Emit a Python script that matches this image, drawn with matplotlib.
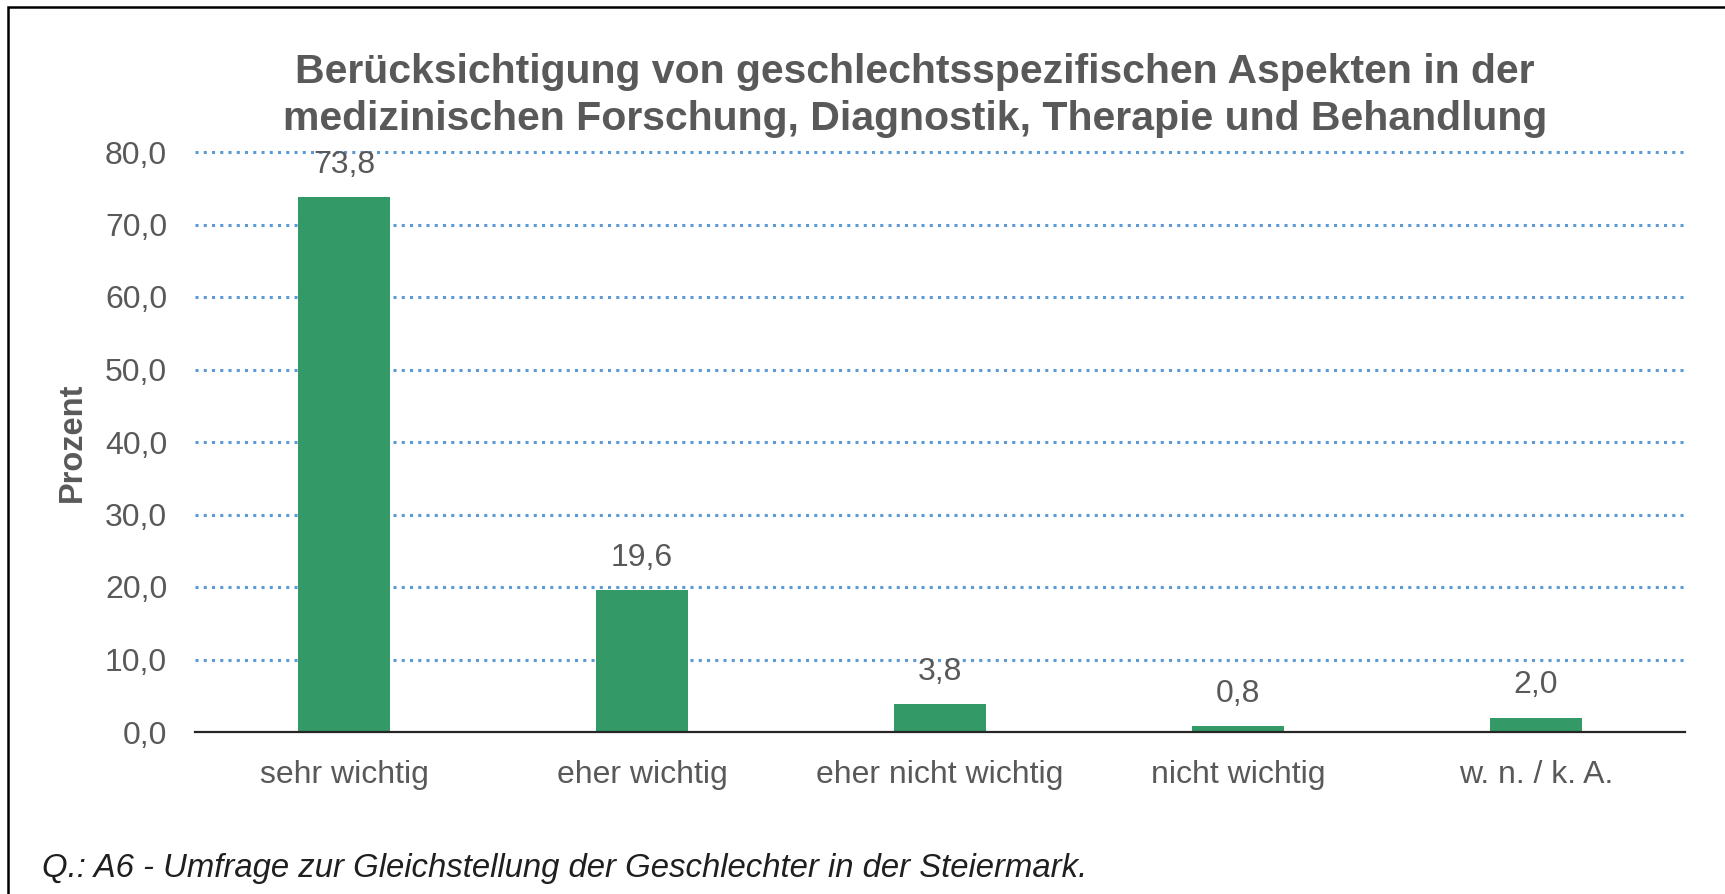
import matplotlib
matplotlib.use("Agg")
import matplotlib.pyplot as plt
from matplotlib.patches import Rectangle

# Survey answers and shares (percent)
categories = ["sehr wichtig", "eher wichtig", "eher nicht wichtig", "nicht wichtig", "w. n. / k. A."]
values = [73.8, 19.6, 3.8, 0.8, 2.0]
y_ticks = [0, 10, 20, 30, 40, 50, 60, 70, 80]

title_lines = [
    "Berücksichtigung von geschlechtsspezifischen Aspekten in der",
    "medizinischen Forschung, Diagnostik, Therapie und Behandlung",
]
y_label = "Prozent"
source_note = "Q.: A6 - Umfrage zur Gleichstellung der Geschlechter in der Steiermark."

plt.rcParams["font.family"] = ["Liberation Sans", "DejaVu Sans"]

W, H = 1725, 894
fig = plt.figure(figsize=(W / 100, H / 100), dpi=100)
fig.patch.set_facecolor("white")

def fx(px):
    return px / W

def fy(py):
    return 1 - py / H

ax = fig.add_axes([fx(195), fy(732), fx(1685) - fx(195), fy(152) - fy(732)])

text_gray = "#595959"
bar_green = "#339966"
grid_blue = "#5B9BD5"
label_size = 23

x = list(range(len(categories)))
bars = ax.bar(x, values, width=0.31, color=bar_green, zorder=3)

ax.set_xlim(-0.5, len(categories) - 0.5)
ax.set_ylim(0, 80)
ax.set_yticks(y_ticks)
ax.set_yticklabels([f"{v:.1f}".replace(".", ",") for v in y_ticks])
ax.set_xticks(x)
ax.set_xticklabels(categories)

ax.tick_params(axis="y", length=0, pad=20, labelsize=label_size, labelcolor=text_gray)
ax.tick_params(axis="x", length=0, pad=20, labelsize=label_size, labelcolor=text_gray)

for side in ("top", "right", "left"):
    ax.spines[side].set_visible(False)
ax.spines["bottom"].set_color("#262626")
ax.spines["bottom"].set_linewidth(1.6)
ax.spines["bottom"].set_zorder(4)

ax.yaxis.grid(True, color=grid_blue, linestyle=(0, (1, 1.7)), linewidth=2.2, zorder=1)
ax.set_axisbelow(True)
for gl in ax.get_ygridlines():
    gl.set_clip_on(False)
ax.yaxis.get_gridlines()[0].set_visible(False)

for b, v in zip(bars, values):
    ax.annotate(f"{v:.1f}".replace(".", ","),
                xy=(b.get_x() + b.get_width() / 2, v),
                xytext=(0, 17.5), textcoords="offset points",
                ha="center", va="baseline", fontsize=label_size, color=text_gray)

# Title, axis label and source note
fig.text(fx(915), fy(83), title_lines[0], ha="center", va="baseline",
         fontsize=29.5, fontweight="bold", color=text_gray)
fig.text(fx(915), fy(130), title_lines[1], ha="center", va="baseline",
         fontsize=29.5, fontweight="bold", color=text_gray)
fig.text(fx(72), fy(442), y_label, rotation=90, ha="center", va="center",
         fontsize=23.5, fontweight="bold", color=text_gray)
fig.text(fx(42), fy(877), source_note, ha="left", va="baseline",
         fontsize=23.7, fontstyle="italic", color="#1f1f1f")

# Outer frame
fig.patches.append(Rectangle((fx(8), -0.1), 1.2, fy(7) + 0.1, transform=fig.transFigure,
                             fill=False, edgecolor="black", linewidth=1.8, zorder=10))

fig.savefig("out.png", dpi=100)
